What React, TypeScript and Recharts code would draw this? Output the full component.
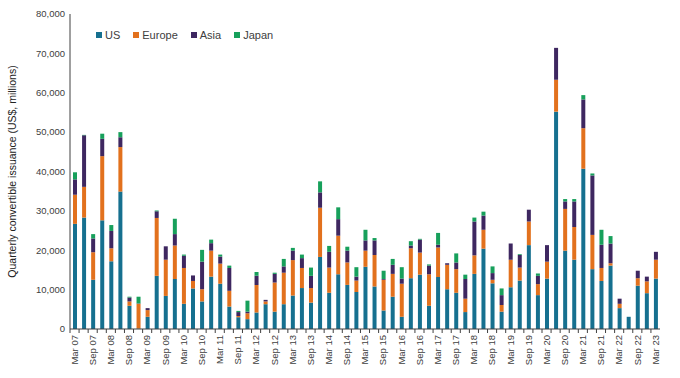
import { BarChart, Bar, XAxis, YAxis, Legend } from "recharts";

const quarters = [
  "Mar 07", "Jun 07", "Sep 07", "Dec 07", "Mar 08", "Jun 08", "Sep 08", "Dec 08",
  "Mar 09", "Jun 09", "Sep 09", "Dec 09", "Mar 10", "Jun 10", "Sep 10", "Dec 10",
  "Mar 11", "Jun 11", "Sep 11", "Dec 11", "Mar 12", "Jun 12", "Sep 12", "Dec 12",
  "Mar 13", "Jun 13", "Sep 13", "Dec 13", "Mar 14", "Jun 14", "Sep 14", "Dec 14",
  "Mar 15", "Jun 15", "Sep 15", "Dec 15", "Mar 16", "Jun 16", "Sep 16", "Dec 16",
  "Mar 17", "Jun 17", "Sep 17", "Dec 17", "Mar 18", "Jun 18", "Sep 18", "Dec 18",
  "Mar 19", "Jun 19", "Sep 19", "Dec 19", "Mar 20", "Jun 20", "Sep 20", "Dec 20",
  "Mar 21", "Jun 21", "Sep 21", "Dec 21", "Mar 22", "Jun 22", "Sep 22", "Dec 22",
  "Mar 23",
];

// US$ millions
const us = [
  26700, 28300, 12500, 27600, 17200, 34900, 5900, 100, 3100, 13500, 8400, 12700, 6400,
  10300, 7000, 13300, 11500, 5700, 3000, 2500, 4200, 6300, 4400, 6300, 8500, 10400,
  6700, 18300, 9200, 13900, 11200, 9400, 15800, 10800, 4700, 8200, 3100, 12900, 13800,
  5900, 13200, 10100, 9200, 4300, 14000, 20400, 11600, 4400, 10600, 12300, 21300, 8600,
  12800, 55200, 19900, 17600, 40700, 15200, 12200, 16100, 5300, 3100, 11000, 9100, 12800,
];
const europe = [
  7400, 7800, 7000, 16300, 3300, 11300, 1100, 6300, 1700, 14700, 9200, 8500, 9100,
  1900, 3100, 6600, 5100, 4000, 300, 1500, 7000, 700, 7400, 8000, 9000, 5100,
  3700, 12500, 6400, 9800, 5700, 2900, 4100, 8000, 7800, 5800, 8400, 7600, 5600,
  8000, 7500, 6200, 6000, 3400, 4700, 4800, 900, 1700, 7000, 3300, 6000, 2800,
  4300, 8100, 10600, 8300, 10300, 8700, 3300, 600, 1100, 0, 1900, 3000, 4800,
];
const asia = [
  3900, 13100, 3500, 4400, 4400, 2500, 1000, 100, 500, 1700, 3400, 2900, 3100,
  1400, 7000, 1900, 1800, 5800, 1000, 400, 2300, 400, 2200, 1600, 2400, 2500,
  3100, 3900, 4000, 4200, 3000, 1000, 2600, 3700, 200, 2300, 1300, 700, 3300,
  2200, 700, 400, 1700, 5000, 8600, 3600, 1700, 2500, 4100, 3200, 3000, 2100,
  4200, 8100, 1900, 6500, 7300, 15100, 5900, 5000, 1300, 0, 1900, 1200, 2000,
];
const japan = [
  1800, 100, 1100, 1300, 1500, 1300, 200, 1700, 0, 200, 0, 3900, 300,
  0, 3000, 900, 500, 600, 300, 2800, 1000, 0, 300, 1900, 700, 900,
  2100, 2800, 1500, 3000, 1000, 2400, 2700, 600, 2100, 1500, 2900, 1100, 200,
  300, 3000, 0, 2300, 1100, 1000, 1000, 1700, 1700, 0, 200, 0, 600,
  0, 0, 600, 600, 1100, 500, 3800, 1900, 0, 0, 0, 0, 0,
];

const yTicks = [0, 10000, 20000, 30000, 40000, 50000, 60000, 70000, 80000];

const series = [
  { key: "US", values: us, color: "#16708f" },
  { key: "Europe", values: europe, color: "#e2711d" },
  { key: "Asia", values: asia, color: "#3e2760" },
  { key: "Japan", values: japan, color: "#17a05b" },
];

const data = quarters.map((q, i) => {
  const row: Record<string, string | number> = { q };
  series.forEach((s) => (row[s.key] = s.values[i]));
  return row;
});

const textColor = "#404040";
const font = "'Liberation Sans', Arial, sans-serif";
const band = 590 / quarters.length;

function QuarterTick(props: any) {
  const { x, y, index, payload } = props;
  return (
    <g>
      <line x1={x - band / 2} x2={x - band / 2} y1={y - 6} y2={y - 2} stroke={textColor} />
      {index % 2 === 0 && (
        <text
          x={x}
          y={y}
          transform={`rotate(-90, ${x}, ${y})`}
          textAnchor="end"
          dy="0.35em"
          fontSize={9.5}
          fill={textColor}
          fontFamily={font}
        >
          {payload.value}
        </text>
      )}
    </g>
  );
}

function renderLegend() {
  return (
    <div style={{ display: "flex", gap: 13, fontFamily: font, fontSize: 11, color: textColor }}>
      {series.map((s) => (
        <span key={s.key} style={{ display: "flex", alignItems: "center", gap: 3 }}>
          <span style={{ width: 6, height: 6, background: s.color, display: "inline-block" }} />
          {s.key}
        </span>
      ))}
    </div>
  );
}

export default function App() {
  return (
    <div style={{ position: "absolute", left: 0, top: 0, width: 680, height: 378, background: "#fff" }}>
      <BarChart width={680} height={378} data={data} margin={{ top: 2, right: 20, left: 0, bottom: 0 }} barCategoryGap="55%">
        <XAxis
          dataKey="q"
          interval={0}
          height={49}
          tickSize={4}
          tickMargin={2}
          tickLine={false}
          axisLine={{ stroke: textColor }}
          tick={<QuarterTick />}
        />
        <YAxis
          width={70}
          domain={[0, 80000]}
          ticks={yTicks}
          tickSize={0}
          tickMargin={5}
          tickLine={false}
          axisLine={{ stroke: textColor }}
          tick={{ fontSize: 9.5, fill: textColor, fontFamily: font }}
          tickFormatter={(v: number) => v.toLocaleString("en-US")}
          label={{
            value: "Quarterly convertible issuance (US$, millions)",
            angle: -90,
            position: "center",
            dx: -23,
            fontSize: 10.5,
            fill: "#222",
            fontFamily: font,
          }}
        />
        <Legend
          verticalAlign="top"
          content={renderLegend}
          wrapperStyle={{ left: 96, top: 29, width: "auto" }}
        />
        {series.map((s) => (
          <Bar key={s.key} dataKey={s.key} stackId="a" fill={s.color} barSize={4} isAnimationActive={false} />
        ))}
      </BarChart>
    </div>
  );
}
